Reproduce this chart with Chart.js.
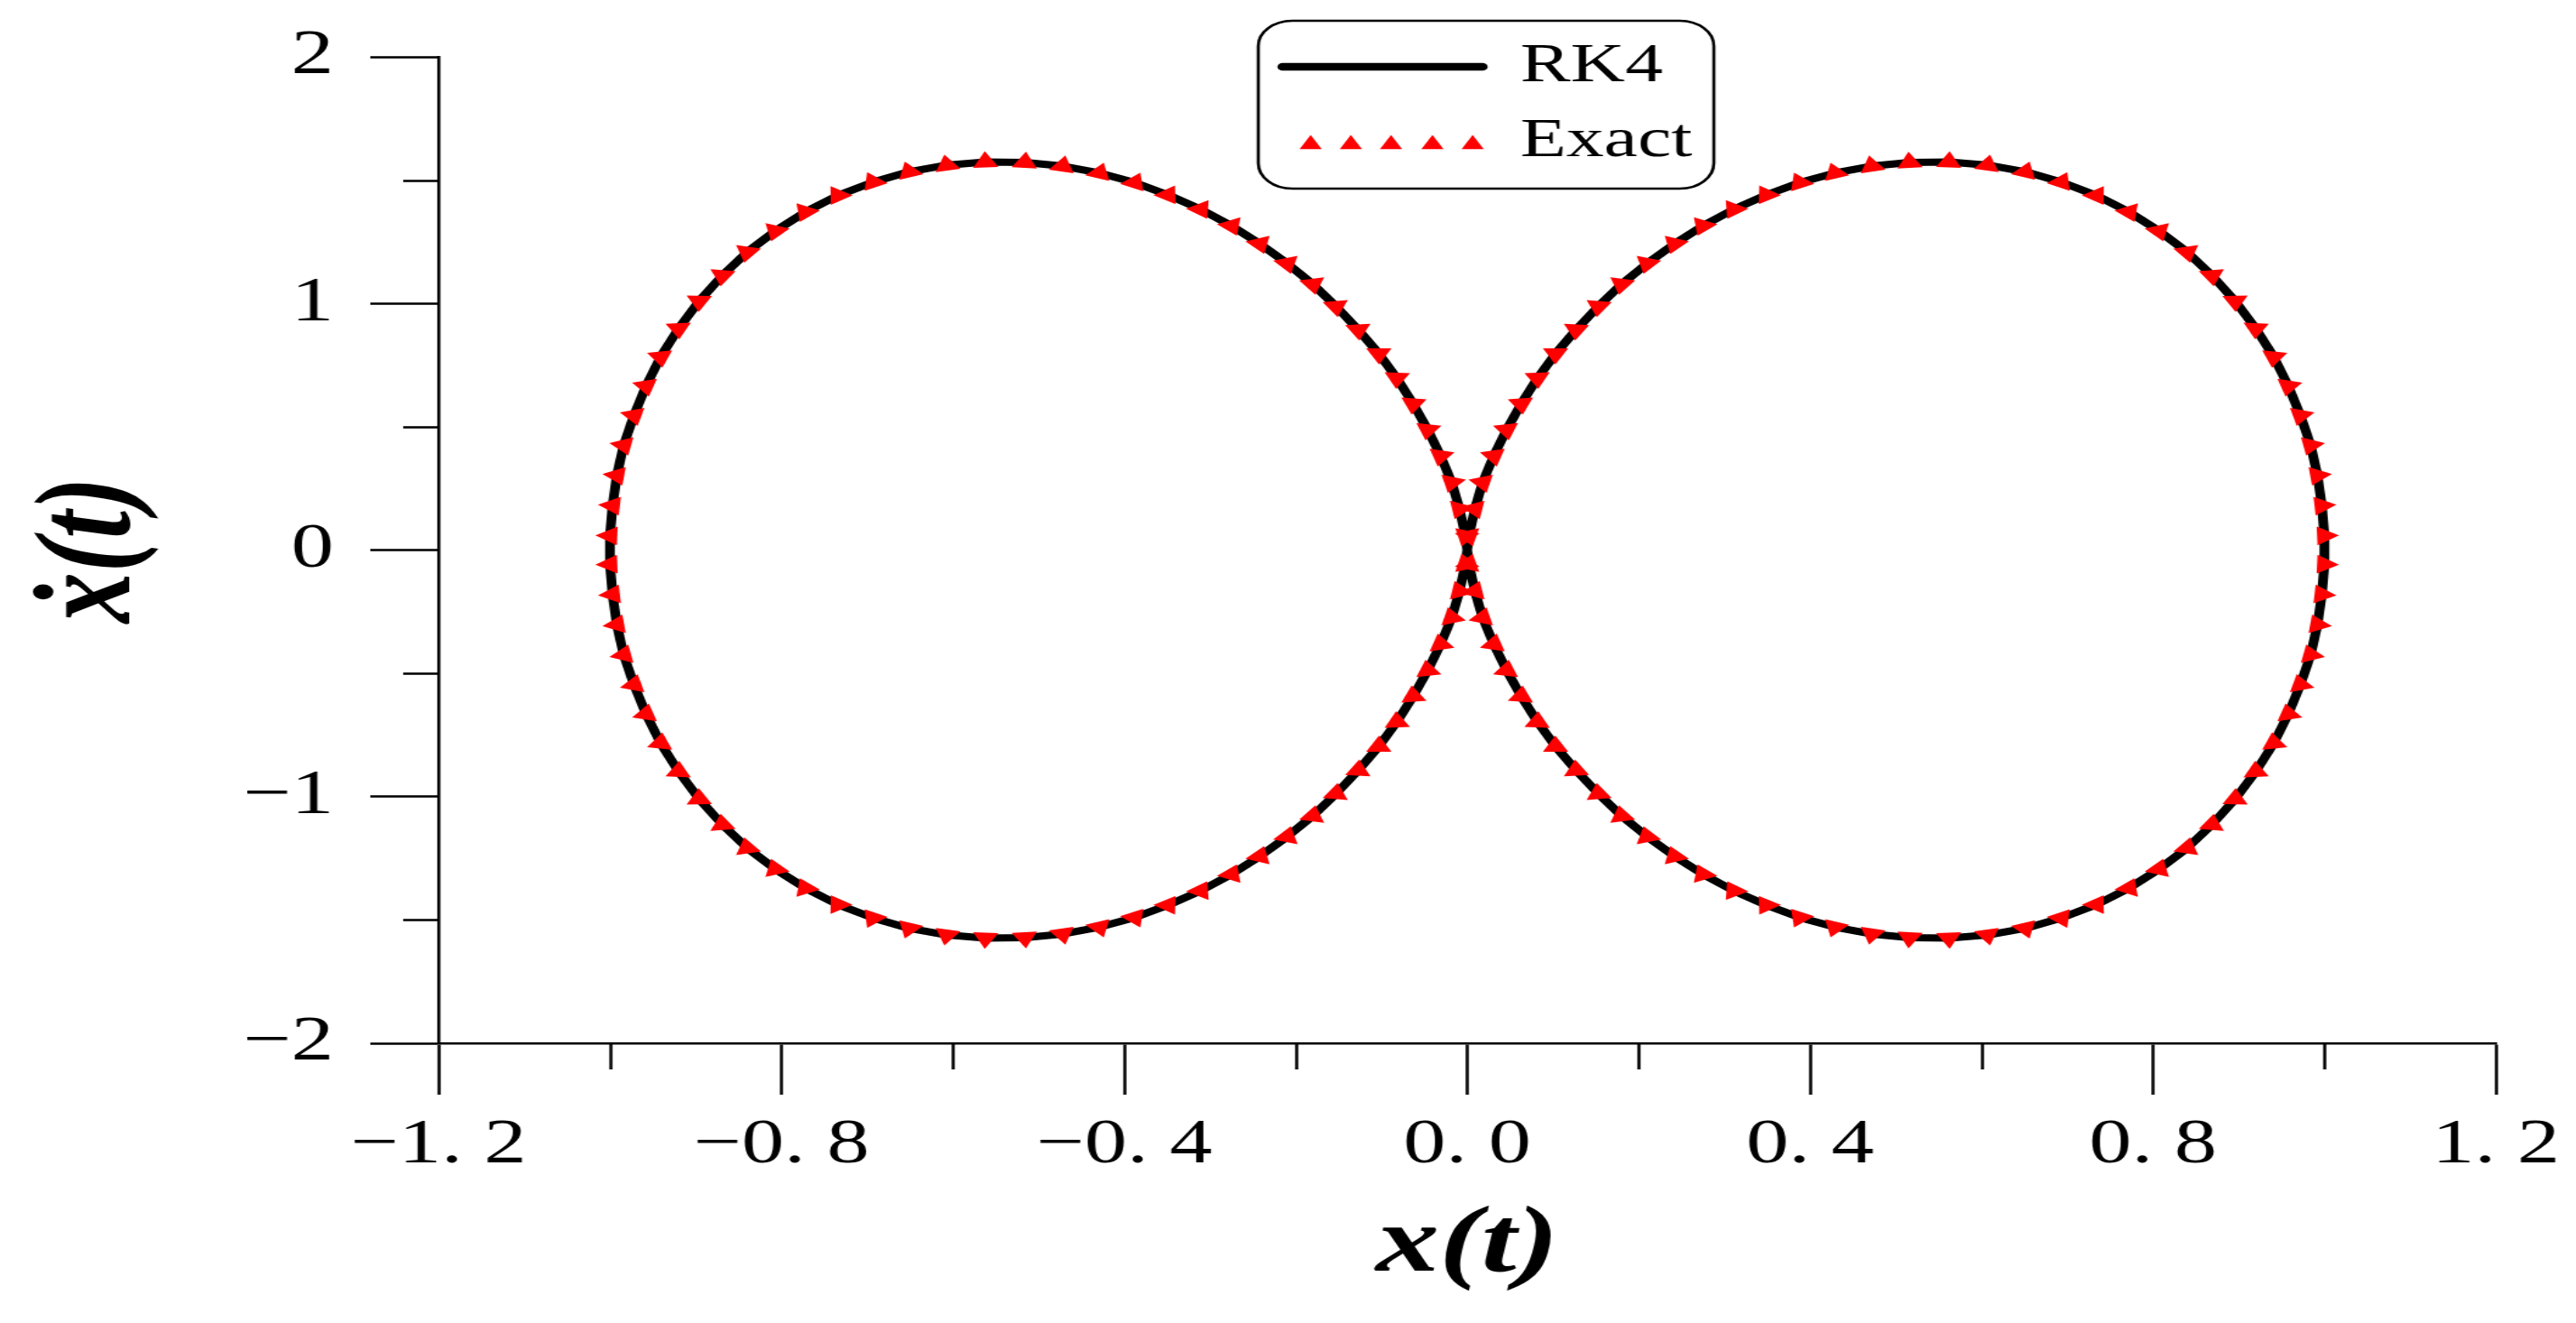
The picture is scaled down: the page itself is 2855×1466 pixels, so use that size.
<!DOCTYPE html>
<html>
<head>
<meta charset="utf-8">
<title>Phase portrait</title>
<script src="https://cdn.jsdelivr.net/npm/chart.js@4.4.1/dist/chart.umd.min.js"></script>
<style>
	html, body { margin: 0; padding: 0; background: #fff; overflow: hidden; }
	/* the figure is wider than tall in its glyphs, so the whole chart is stretched sideways */
	#wrap { width: 2115px; height: 1466px; transform: scaleX(1.35); transform-origin: 0 0; }
</style>
</head>
<body>
<div id="wrap"><canvas id="chart" width="2115" height="1466"></canvas></div>
<script>
const xTickValues = [-1.2, -0.8, -0.4, 0, 0.4, 0.8, 1.2];
const xTickLabels = ['−1. 2', '−0. 8', '−0. 4', '0. 0', '0. 4', '0. 8', '1. 2'];
const xMinorTicks = [-1.0, -0.6, -0.2, 0.2, 0.6, 1.0];
const yTickValues = [-2, -1, 0, 1, 2];
const yTickLabels = ['−2', '−1', '0', '1', '2'];
const yMinorTicks = [-1.5, -0.5, 0.5, 1.5];
const seriesNames = ['RK4', 'Exact'];

// the two lobes meet at the origin
const origin = [0, 0];

// markers, quarter by quarter, in the order the orbit runs
const upperRightX = [0.002, 0.009, 0.018, 0.031, 0.046, 0.063, 0.082, 0.103, 0.127, 0.153, 0.180, 0.210, 0.242, 0.275, 0.311, 0.349, 0.388, 0.429, 0.472, 0.516, 0.562, 0.607, 0.651, 0.693, 0.734, 0.772, 0.807, 0.840, 0.869, 0.896, 0.920, 0.941, 0.958, 0.972, 0.984, 0.992, 0.997, 1.000];
const upperRightY = [0.057, 0.167, 0.274, 0.382, 0.488, 0.593, 0.697, 0.796, 0.893, 0.988, 1.078, 1.162, 1.242, 1.315, 1.382, 1.440, 1.490, 1.529, 1.557, 1.572, 1.574, 1.561, 1.534, 1.492, 1.438, 1.371, 1.294, 1.208, 1.113, 1.009, 0.898, 0.783, 0.665, 0.546, 0.425, 0.302, 0.180, 0.058];

const lowerRightX = [1.000, 0.997, 0.992, 0.984, 0.972, 0.958, 0.941, 0.920, 0.896, 0.869, 0.840, 0.807, 0.772, 0.734, 0.693, 0.651, 0.607, 0.562, 0.516, 0.472, 0.429, 0.388, 0.349, 0.311, 0.275, 0.242, 0.210, 0.180, 0.153, 0.127, 0.103, 0.082, 0.063, 0.046, 0.031, 0.018, 0.009, 0.002];
const lowerRightY = [-0.058, -0.180, -0.302, -0.425, -0.546, -0.665, -0.783, -0.898, -1.009, -1.113, -1.208, -1.294, -1.371, -1.438, -1.492, -1.534, -1.561, -1.574, -1.572, -1.557, -1.529, -1.490, -1.440, -1.382, -1.315, -1.242, -1.162, -1.078, -0.988, -0.893, -0.796, -0.697, -0.593, -0.488, -0.382, -0.274, -0.167, -0.057];

const lowerLeftX = [-0.002, -0.009, -0.018, -0.031, -0.046, -0.063, -0.082, -0.103, -0.127, -0.153, -0.180, -0.210, -0.242, -0.275, -0.311, -0.349, -0.388, -0.429, -0.472, -0.516, -0.562, -0.607, -0.651, -0.693, -0.734, -0.772, -0.807, -0.840, -0.869, -0.896, -0.920, -0.941, -0.958, -0.972, -0.984, -0.992, -0.997, -1.000];
const lowerLeftY = [-0.057, -0.167, -0.274, -0.382, -0.488, -0.593, -0.697, -0.796, -0.893, -0.988, -1.078, -1.162, -1.242, -1.315, -1.382, -1.440, -1.490, -1.529, -1.557, -1.572, -1.574, -1.561, -1.534, -1.492, -1.438, -1.371, -1.294, -1.208, -1.113, -1.009, -0.898, -0.783, -0.665, -0.546, -0.425, -0.302, -0.180, -0.058];

const upperLeftX = [-1.000, -0.997, -0.992, -0.984, -0.972, -0.958, -0.941, -0.920, -0.896, -0.869, -0.840, -0.807, -0.772, -0.734, -0.693, -0.651, -0.607, -0.562, -0.516, -0.472, -0.429, -0.388, -0.349, -0.311, -0.275, -0.242, -0.210, -0.180, -0.153, -0.127, -0.103, -0.082, -0.063, -0.046, -0.031, -0.018, -0.009, -0.002];
const upperLeftY = [0.058, 0.180, 0.302, 0.425, 0.546, 0.665, 0.783, 0.898, 1.009, 1.113, 1.208, 1.294, 1.371, 1.438, 1.492, 1.534, 1.561, 1.574, 1.572, 1.557, 1.529, 1.490, 1.440, 1.382, 1.315, 1.242, 1.162, 1.078, 0.988, 0.893, 0.796, 0.697, 0.593, 0.488, 0.382, 0.274, 0.167, 0.057];

const FONT = "'Liberation Serif', 'Times New Roman', serif";

function toPoints(xs, ys) {
	return xs.map((x, i) => ({ x: x, y: ys[i] }));
}

const exactPoints = [
	...toPoints(upperRightX, upperRightY),
	...toPoints(lowerRightX, lowerRightY),
	...toPoints(lowerLeftX, lowerLeftY),
	...toPoints(upperLeftX, upperLeftY),
];

const crossing = { x: origin[0], y: origin[1] };
const rk4Points = [
	crossing,
	...toPoints(upperRightX, upperRightY),
	...toPoints(lowerRightX, lowerRightY),
	crossing,
	...toPoints(lowerLeftX, lowerLeftY),
	...toPoints(upperLeftX, upperLeftY),
	crossing,
];

// triangles point outward from the loop, i.e. across the direction of travel
function markerAngle(ctx) {
	if (ctx.type !== 'data') return 0;
	const { x: xs, y: ys } = ctx.chart.scales;
	if (!xs || !ys) return 0;
	const n = exactPoints.length;
	const prev = exactPoints[(ctx.dataIndex - 1 + n) % n];
	const next = exactPoints[(ctx.dataIndex + 1) % n];
	const dx = xs.getPixelForValue(next.x) - xs.getPixelForValue(prev.x);
	const dy = ys.getPixelForValue(next.y) - ys.getPixelForValue(prev.y);
	return (Math.atan2(dy, dx) * 180) / Math.PI;
}

const minorTicks = {
	id: 'minorTicks',
	afterDraw(chart) {
		const { ctx, chartArea, scales } = chart;
		ctx.save();
		ctx.strokeStyle = '#000';
		ctx.lineWidth = 2.5;
		ctx.beginPath();
		xMinorTicks.forEach((v) => {
			const px = Math.round(scales.x.getPixelForValue(v)) + 0.5;
			ctx.moveTo(px, chartArea.bottom);
			ctx.lineTo(px, chartArea.bottom + 29);
		});
		yMinorTicks.forEach((v) => {
			const py = Math.round(scales.y.getPixelForValue(v)) + 0.5;
			ctx.moveTo(chartArea.left, py);
			ctx.lineTo(chartArea.left - 29, py);
		});
		ctx.stroke();
		ctx.restore();
	},
};

function roundedBox(ctx, x, y, w, h, r) {
	ctx.beginPath();
	ctx.moveTo(x + r, y);
	ctx.lineTo(x + w - r, y);
	ctx.arcTo(x + w, y, x + w, y + r, r);
	ctx.lineTo(x + w, y + h - r);
	ctx.arcTo(x + w, y + h, x + w - r, y + h, r);
	ctx.lineTo(x + r, y + h);
	ctx.arcTo(x, y + h, x, y + h - r, r);
	ctx.lineTo(x, y + r);
	ctx.arcTo(x, y, x + r, y, r);
	ctx.closePath();
}

const legendBox = {
	id: 'legendBox',
	afterDraw(chart) {
		const ctx = chart.ctx;
		ctx.save();
		roundedBox(ctx, 1033, 23, 374, 186, 28);
		ctx.fillStyle = '#fff';
		ctx.fill();
		ctx.lineWidth = 2.6;
		ctx.strokeStyle = '#000';
		ctx.stroke();

		ctx.lineCap = 'round';
		ctx.lineWidth = 8.6;
		ctx.beginPath();
		ctx.moveTo(1053, 74);
		ctx.lineTo(1217, 74);
		ctx.stroke();

		ctx.fillStyle = '#ff0000';
		const r = 10.5;
		[1076, 1109, 1142, 1176, 1209].forEach((cx) => {
			ctx.beginPath();
			ctx.moveTo(cx, 160 - r);
			ctx.lineTo(cx + r * 0.866, 160 + r / 2);
			ctx.lineTo(cx - r * 0.866, 160 + r / 2);
			ctx.closePath();
			ctx.fill();
		});

		ctx.fillStyle = '#000';
		ctx.font = `62px ${FONT}`;
		ctx.textBaseline = 'middle';
		ctx.textAlign = 'left';
		ctx.fillText(seriesNames[0], 1248, 74);
		ctx.fillText(seriesNames[1], 1248, 157);
		ctx.restore();
	},
};

const tickFont = { family: FONT, size: 70 };
const titleFont = { family: FONT, size: 104, style: 'italic', weight: 'bold' };

new Chart(document.getElementById('chart'), {
	type: 'scatter',
	data: {
		datasets: [
			{
				label: seriesNames[1],
				data: exactPoints,
				showLine: false,
				pointStyle: 'triangle',
				pointRadius: 12,
				pointBackgroundColor: '#ff0000',
				pointBorderWidth: 0,
				pointRotation: markerAngle,
				order: 0,
			},
			{
				label: seriesNames[0],
				data: rk4Points,
				showLine: true,
				borderColor: '#000',
				borderWidth: 8,
				borderJoinStyle: 'round',
				borderCapStyle: 'round',
				tension: 0,
				pointRadius: 0,
				order: 1,
			},
		],
	},
	options: {
		responsive: false,
		animation: false,
		devicePixelRatio: 1,
		layout: { padding: { left: 0, right: 66, top: 63, bottom: 0 } },
		plugins: {
			legend: { display: false },
			tooltip: { enabled: false },
		},
		scales: {
			x: {
				type: 'linear',
				min: -1.2,
				max: 1.2,
				afterBuildTicks: (scale) => {
					scale.ticks = xTickValues.map((v) => ({ value: v }));
				},
				afterFit: (scale) => {
					scale.height = 310;
					scale.paddingLeft = 0;
					scale.paddingRight = 0;
				},
				ticks: {
					autoSkip: false,
					maxRotation: 0,
					minRotation: 0,
					padding: 15,
					color: '#000',
					font: tickFont,
					callback: (value, index) => xTickLabels[index],
				},
				grid: {
					display: true,
					drawOnChartArea: false,
					drawTicks: true,
					tickLength: 57,
					tickWidth: 2.5,
					tickColor: '#000',
				},
				border: { display: true, color: '#000', width: 2.5 },
				title: {
					display: true,
					text: 'x(t)',
					color: '#000',
					font: titleFont,
					padding: { top: 0, bottom: 22 },
				},
			},
			y: {
				type: 'linear',
				min: -2,
				max: 2,
				afterBuildTicks: (scale) => {
					scale.ticks = yTickValues.map((v) => ({ value: v }));
				},
				afterFit: (scale) => {
					scale.width = 360;
					scale.paddingTop = 0;
					scale.paddingBottom = 0;
				},
				ticks: {
					autoSkip: false,
					padding: 30,
					color: '#000',
					font: tickFont,
					callback: (value, index) => yTickLabels[index],
				},
				grid: {
					display: true,
					drawOnChartArea: false,
					drawTicks: true,
					tickLength: 56,
					tickWidth: 2.5,
					tickColor: '#000',
				},
				border: { display: true, color: '#000', width: 2.5 },
				title: {
					display: true,
					text: 'x\u0307(t)',
					color: '#000',
					font: { family: FONT, size: 112, style: 'italic', weight: 'bold' },
					padding: { top: 10, bottom: 0 },
				},
			},
		},
	},
	plugins: [minorTicks, legendBox],
});
</script>
</body>
</html>
